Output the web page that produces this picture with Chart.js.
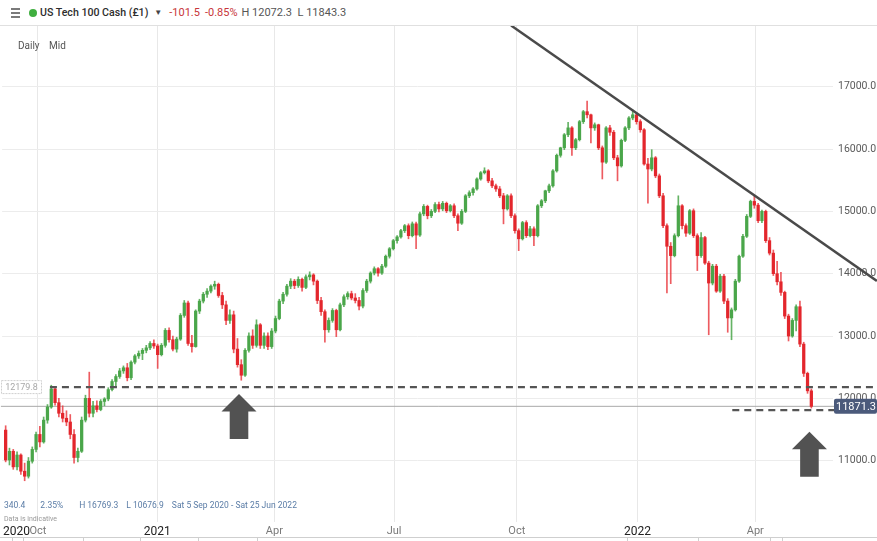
<!DOCTYPE html>
<html>
<head>
<meta charset="utf-8">
<script src="https://cdn.jsdelivr.net/npm/chart.js@4.4.1/dist/chart.umd.min.js"></script>
<style>
  html, body { margin: 0; padding: 0; background: #fff; }
  #wrap { position: relative; width: 877px; height: 541px; overflow: hidden; font-family: Roboto, Arial, sans-serif; }
  #chart { position: absolute; left: 0; top: 0; }
  .hdr { position: absolute; left: 0; top: 0; width: 877px; height: 25px; border-bottom: 1px solid #e0e0e0; background: #fff; z-index: 2; }
  .row { position: absolute; left: 40px; top: 0; height: 25px; display: flex; align-items: center; font-size: 11px; white-space: nowrap; }
  .menu { position: absolute; left: 11px; width: 9px; height: 1.5px; background: #7a7a7a; }
  .dot { position: absolute; left: 29px; top: 9px; width: 8px; height: 8px; border-radius: 50%; background: #3fae3f; }
  .tag { position: absolute; font-size: 10px; color: #555; z-index: 2; }
  .foot { position: absolute; left: 4px; top: 500px; display: flex; font-size: 8.5px; color: #5a7ca6; white-space: nowrap; z-index: 2; }
  .nav { position: absolute; left: 0; top: 537px; width: 877px; height: 1px; background: #cfcfcf; z-index: 2; }
  .nt { position: absolute; top: 537px; width: 1px; height: 4px; background: #cfcfcf; z-index: 2; }
</style>
</head>
<body>
<div id="wrap">
  <canvas id="chart" width="877" height="541"></canvas>

  <div class="hdr">
    <div class="menu" style="top:8px"></div>
    <div class="menu" style="top:12px"></div>
    <div class="menu" style="top:16px"></div>
    <div class="dot"></div>
    <div class="row">
      <span style="color:#2d2d2d; font-weight:500; font-size:10.6px;">US Tech 100 Cash (£1)</span>
      <span style="margin-left:6px; font-size:8px; color:#444;">&#9660;</span>
      <span style="margin-left:7px; color:#c8363a;">-101.5</span>
      <span style="margin-left:5px; color:#c8363a;">-0.85%</span>
      <span style="margin-left:4px; color:#555;">H 12072.3&nbsp; L 11843.3</span>
    </div>
  </div>

  <div class="tag" style="left:18px; top:40px;">Daily</div>
  <div class="tag" style="left:49px; top:40px;">Mid</div>

  <div class="foot">
    <span>340.4</span>
    <span style="margin-left:15px;">2.35%</span>
    <span style="margin-left:16px;">H 16769.3</span>
    <span style="margin-left:8px;">L 10676.9</span>
    <span style="margin-left:8px;">Sat 5 Sep 2020 - Sat 25 Jun 2022</span>
  </div>
  <div class="tag" style="left:4px; top:515px; font-size:7px; color:#999;">Data is indicative</div>

  <div class="nav"></div>
  <div class="nt" style="left:12px"></div>
  <div class="nt" style="left:23px"></div>
  <div class="nt" style="left:83px"></div>
  <div class="nt" style="left:140px"></div>
  <div class="nt" style="left:198px"></div>
  <div class="nt" style="left:257px"></div>
  <div class="nt" style="left:627px"></div>
  <div class="nt" style="left:698px"></div>
  <div class="nt" style="left:770px"></div>
  <div class="nt" style="left:782px"></div>
</div>

<script>
// US Tech 100 Cash, daily mid, Sep 2020 -> May 2022
// one candle per two trading days

const opens = [
  11490, 11010, 11150, 10900, 11090, 10830, 10750, 10990, 11180, 11420,
  11300, 11650, 11860, 12150, 11930, 11760, 11680, 11620, 11420, 11050,
  11150, 11650, 12000, 11760, 11880, 11820, 11950, 11990, 12140, 12270,
  12350, 12440, 12490, 12330, 12580, 12680, 12720, 12770, 12810, 12880,
  12840, 12700, 12850, 13090, 12940, 12790, 12950, 13330, 13530, 12880,
  12830, 13400, 13560, 13670, 13720, 13800, 13830, 13650, 13500, 13250,
  13340, 12790, 12540, 12370, 12770, 13000, 12850, 13180, 12850, 13000,
  12830, 13080, 13280, 13560, 13670, 13800, 13880, 13810, 13910, 13780,
  13950, 13980, 13880, 13570, 13390, 13100, 13250, 13410, 13100, 13500,
  13630, 13680, 13610, 13570, 13480, 13730, 13880, 14010, 14080, 14010,
  14120, 14280, 14400, 14530, 14590, 14690, 14770, 14610, 14800, 14620,
  14960, 15080, 14930, 15000, 15110, 15040, 15130, 15010, 15090, 14930,
  14810, 15000, 15250, 15300, 15360, 15520, 15620, 15650, 15490, 15410,
  15360, 15250, 15040, 15250, 14930, 14690, 14560, 14820, 14610, 14720,
  14610, 15090, 15170, 15330, 15410, 15650, 15900, 16020, 16230, 16340,
  16020, 16150, 16440, 16600, 16550, 16340, 16390, 16020, 15790, 16340,
  16270, 15860, 15730, 16140, 16340, 16500, 16550, 16440, 16310, 15760,
  15680, 15860, 15570, 15250, 14770, 14440, 14290, 14610, 15090, 14770,
  14650, 15010, 14610, 14290, 14580, 14170, 13850, 14120, 13720, 13960,
  13560, 13290, 13420, 13880, 14280, 14600, 14920, 15160, 15100, 14850,
  15000, 14530, 14330, 14000, 13870, 13700, 13320, 13000, 13250, 13470,
  12870, 12400, 12120
];
const highs = [
  11560, 11200, 11180, 11140, 11110, 10960, 11050, 11220, 11460, 11550,
  11700, 11900, 12210, 12180, 12000, 11880, 11800, 11740, 11500, 11200,
  11700, 12050, 12420, 11950, 11960, 11980, 12010, 12170, 12300, 12380,
  12480, 12520, 12560, 12600, 12700, 12760, 12800, 12850, 12910, 12940,
  12870, 12880, 13120, 13130, 13000, 12980, 13360, 13570, 13560, 13010,
  13420, 13590, 13700, 13760, 13820, 13880, 13850, 13700, 13560, 13420,
  13400, 12960, 12620, 12800, 13050, 13100, 13260, 13200, 13050, 13050,
  13120, 13320, 13590, 13700, 13830, 13920, 13910, 13950, 13930, 13980,
  14030, 14000, 13900, 13620, 13420, 13290, 13440, 13430, 13530, 13660,
  13710, 13720, 13680, 13620, 13760, 13910, 14030, 14110, 14100, 14150,
  14300, 14420, 14550, 14610, 14710, 14790, 14800, 14830, 14830, 14990,
  15110, 15100, 15030, 15140, 15150, 15160, 15150, 15110, 15120, 14960,
  15030, 15270, 15330, 15380, 15540, 15640, 15700, 15670, 15530, 15440,
  15400, 15290, 15270, 15280, 14960, 14720, 14840, 14850, 14760, 14750,
  15110, 15190, 15340, 15440, 15670, 15920, 16030, 16250, 16430, 16360,
  16170, 16460, 16620, 16769, 16560, 16420, 16400, 16050, 16360, 16380,
  16300, 15900, 16160, 16360, 16520, 16627, 16580, 16470, 16330, 15850,
  15990, 15880, 15600, 15290, 14800, 14500, 14640, 15250, 15110, 14800,
  15030, 15040, 14640, 14660, 14600, 14200, 14150, 14150, 13990, 13990,
  13600, 13450, 13910, 14300, 14630, 14950, 15180, 15260, 15130, 15020,
  15020, 14580, 14380, 14200, 14020, 13720, 13350, 13280, 13500, 13560,
  12900, 12420, 12150
];
const lows = [
  10980, 10930, 10860, 10850, 10780, 10677, 10720, 10960, 11140, 11220,
  11280, 11600, 11840, 11890, 11700, 11620, 11560, 11350, 10960, 10980,
  11130, 11620, 11700, 11700, 11780, 11800, 11880, 11960, 12120, 12180,
  12320, 12400, 12280, 12300, 12550, 12640, 12620, 12730, 12780, 12800,
  12480, 12680, 12820, 12900, 12760, 12740, 12930, 13300, 12850, 12740,
  12820, 13360, 13530, 13620, 13690, 13750, 13620, 13440, 13180, 13200,
  12730, 12500, 12290, 12350, 12740, 12800, 12820, 12800, 12800, 12780,
  12800, 13050, 13260, 13520, 13640, 13760, 13760, 13780, 13720, 13760,
  13900, 13820, 13520, 13330, 12900, 13060, 13220, 12990, 13080, 13470,
  13590, 13580, 13530, 13420, 13450, 13700, 13850, 13980, 13960, 13990,
  14100, 14250, 14380, 14490, 14570, 14660, 14560, 14590, 14400, 14600,
  14930, 14880, 14900, 14980, 14990, 15010, 14980, 14990, 14900, 14690,
  14790, 14980, 15220, 15260, 15340, 15500, 15600, 15460, 15380, 15320,
  15220, 14800, 15020, 14900, 14650, 14370, 14540, 14580, 14590, 14450,
  14590, 15060, 15140, 15300, 15390, 15630, 15870, 15990, 16200, 15900,
  15990, 16130, 16410, 16500, 16100, 16300, 15990, 15520, 15770, 16220,
  15830, 15490, 15710, 16120, 16310, 16470, 16400, 16270, 15740, 15130,
  15650, 15540, 15220, 14740, 13690, 13840, 14270, 14590, 14720, 14600,
  14630, 14580, 14050, 14260, 14150, 13020, 13820, 13700, 13700, 13520,
  13060, 12940, 13400, 13860, 14260, 14580, 14900, 15050, 14820, 14820,
  14500, 14300, 13970, 13820, 13650, 13280, 12920, 12980, 13080, 12830,
  12350, 12080, 11843.3
];
const closes = [
  11010, 11150, 10900, 11090, 10830, 10750, 10990, 11180, 11420, 11300,
  11650, 11860, 12150, 11930, 11760, 11680, 11620, 11420, 11050, 11150,
  11650, 12000, 11760, 11880, 11820, 11950, 11990, 12140, 12270, 12350,
  12440, 12490, 12330, 12580, 12680, 12720, 12770, 12810, 12880, 12840,
  12700, 12850, 13090, 12940, 12790, 12950, 13330, 13530, 12880, 12830,
  13400, 13560, 13670, 13720, 13800, 13830, 13650, 13500, 13250, 13340,
  12790, 12540, 12370, 12770, 13000, 12850, 13180, 12850, 13000, 12830,
  13080, 13280, 13560, 13670, 13800, 13880, 13810, 13910, 13780, 13950,
  13980, 13880, 13570, 13390, 13100, 13250, 13410, 13100, 13500, 13630,
  13680, 13610, 13570, 13480, 13730, 13880, 14010, 14080, 14010, 14120,
  14280, 14400, 14530, 14590, 14690, 14770, 14610, 14800, 14620, 14960,
  15080, 14930, 15000, 15110, 15040, 15130, 15010, 15090, 14930, 14810,
  15000, 15250, 15300, 15360, 15520, 15620, 15650, 15490, 15410, 15360,
  15250, 15040, 15250, 14930, 14690, 14560, 14820, 14610, 14720, 14610,
  15090, 15170, 15330, 15410, 15650, 15900, 16020, 16230, 16340, 16020,
  16150, 16440, 16600, 16550, 16340, 16390, 16020, 15790, 16340, 16270,
  15860, 15730, 16140, 16340, 16500, 16550, 16440, 16310, 15760, 15680,
  15860, 15570, 15250, 14770, 14440, 14290, 14610, 15090, 14770, 14650,
  15010, 14610, 14290, 14580, 14170, 13850, 14120, 13720, 13960, 13560,
  13290, 13420, 13880, 14280, 14600, 14920, 15160, 15100, 14850, 15000,
  14530, 14330, 14000, 13870, 13700, 13320, 13000, 13250, 13470, 12870,
  12400, 12120, 11871.3
];

// x axis in trading days since Mon 7 Sep 2020
const daysPerCandle = 2;
const tickDays   = [6.2, 17.5, 80.3, 141.9, 204.9, 269.5, 333, 395];
const tickLabels = ['2020', 'Oct', '2021', 'Apr', 'Jul', 'Oct', '2022', 'Apr'];
const yTicks     = [11000, 12000, 13000, 14000, 15000, 16000, 17000];

// drawn lines
const trendDays    = [266.5, 459];
const trendValues  = [17984, 13883];
const supportLevel = 12179.8;
const supportDays  = [23.8, 459];
const lowerLevel   = 11812;
const lowerDays    = [382.9, 459];
const lastPrice    = 11871.3;
const lastDays     = [-2, 459];

// arrows: trading day, value at the tip
const arrowDays   = [123.3, 423.5];
const arrowValues = [12069, 11464];

const UP = '#4aa64a';
const DOWN = '#e3262c';

const candleX = i => i * daysPerCandle + 0.5;
const isUp = i => closes[i] >= opens[i];
const bodyColors = opens.map((o, i) => isUp(i) ? UP : DOWN);
const wickColors = opens.map((o, i) => isUp(i) ? 'rgba(74,166,74,0.85)' : 'rgba(232,50,56,0.8)');

const bodyData = opens.map((o, i) => ({ x: candleX(i), y: [o, closes[i]] }));
const wickData = opens.map((o, i) => ({ x: candleX(i), y: [lows[i], highs[i]] }));

function lineSet(days, values, color, width, dash) {
  return {
    type: 'line',
    data: days.map((d, i) => ({ x: d, y: values[i] })),
    borderColor: color,
    borderWidth: width,
    borderDash: dash || [],
    pointRadius: 0,
    tension: 0,
    clip: false,
    order: 0
  };
}

function drawArrow(c, x, y) {
  c.beginPath();
  c.moveTo(x, y);
  c.lineTo(x + 17.5, y + 17.5);
  c.lineTo(x + 9.3, y + 17.5);
  c.lineTo(x + 9.3, y + 45);
  c.lineTo(x - 9.3, y + 45);
  c.lineTo(x - 9.3, y + 17.5);
  c.lineTo(x - 17.5, y + 17.5);
  c.closePath();
  c.fillStyle = '#525252';
  c.fill();
}

const overlays = {
  id: 'overlays',
  afterDatasetsDraw(chart) {
    const c = chart.ctx;
    const xs = chart.scales.x, ys = chart.scales.y;
    c.save();

    arrowDays.forEach((d, i) => drawArrow(c, xs.getPixelForValue(d), ys.getPixelForValue(arrowValues[i])));

    // left label for the support level
    let y = ys.getPixelForValue(supportLevel);
    c.fillStyle = '#fff';
    c.fillRect(1, y - 7, 41, 14);
    c.setLineDash([2, 1]);
    c.strokeStyle = '#cfcfcf';
    c.lineWidth = 1;
    c.strokeRect(1.5, y - 6.5, 40, 13);
    c.setLineDash([]);
    c.fillStyle = '#a8a8a8';
    c.font = '9px Roboto, Arial, sans-serif';
    c.textAlign = 'center';
    c.textBaseline = 'middle';
    c.fillText(supportLevel.toFixed(1), 21.5, y + 0.5);

    // last price box on the axis
    y = ys.getPixelForValue(lastPrice);
    c.fillStyle = '#4b5a7b';
    c.beginPath();
    c.roundRect(834, y - 7.5, 43, 15, 2);
    c.fill();
    c.fillStyle = '#fff';
    c.font = '11px Roboto, Arial, sans-serif';
    c.fillText(lastPrice.toFixed(1), 856, y + 0.5);
    c.restore();
  }
};

new Chart(document.getElementById('chart'), {
  type: 'bar',
  data: {
    datasets: [
      lineSet(trendDays, trendValues, '#4a4a4a', 2.5),
      lineSet(supportDays, [supportLevel, supportLevel], '#555', 2.3, [7, 5]),
      lineSet(lowerDays, [lowerLevel, lowerLevel], '#555', 2.3, [7, 5]),
      Object.assign(lineSet(lastDays, [lastPrice, lastPrice], '#a9a9a9', 1), { order: 5 }),
      {
        data: bodyData,
        backgroundColor: bodyColors,
        barThickness: 2.6,
        minBarLength: 1,
        grouped: false,
        borderWidth: 0,
        order: 1
      },
      {
        data: wickData,
        backgroundColor: wickColors,
        barThickness: 1,
        grouped: false,
        borderWidth: 0,
        order: 2
      }
    ]
  },
  options: {
    responsive: false,
    animation: false,
    devicePixelRatio: 1,
    layout: { padding: { top: 26, left: 0, right: 0, bottom: 0 } },
    plugins: { legend: { display: false }, tooltip: { enabled: false } },
    scales: {
      x: {
        type: 'linear',
        min: -1.36,
        max: 435.9,
        offset: false,
        bounds: 'data',
        border: { display: false },
        grid: {
          offset: false,
          drawTicks: false,
          color: c => (tickLabels[c.index] === '2020' ? 'rgba(0,0,0,0)' : '#e8e8e8')
        },
        afterBuildTicks: s => { s.ticks = tickDays.map(v => ({ value: v })); },
        afterFit: s => { s.height = 19; },
        ticks: {
          autoSkip: false,
          maxRotation: 0,
          padding: 3,
          callback: (v, i) => tickLabels[i],
          color: c => (/^\d+$/.test(tickLabels[c.index]) ? '#222' : '#7a7a7a'),
          font: c => ({ family: 'Roboto, Arial, sans-serif', size: /^\d+$/.test(tickLabels[c.index]) ? 12 : 11 })
        }
      },
      y: {
        position: 'right',
        min: 10015,
        max: 17975,
        beginAtZero: false,
        border: { display: false },
        grid: { drawTicks: false, color: '#ececec' },
        afterBuildTicks: s => { s.ticks = yTicks.map(v => ({ value: v })); },
        afterFit: s => { s.width = 44; },
        ticks: {
          padding: 5,
          color: '#5a5a5a',
          font: { family: 'Roboto, Arial, sans-serif', size: 10.5 },
          callback: v => Number(v).toFixed(1)
        }
      }
    }
  },
  plugins: [overlays]
});
</script>
</body>
</html>
